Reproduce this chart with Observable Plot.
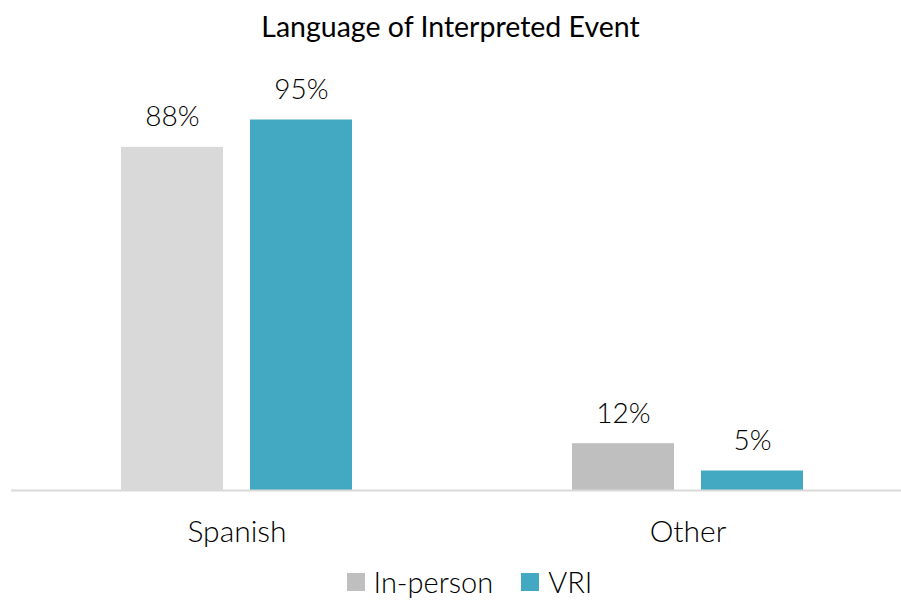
<!DOCTYPE html>
<html><head><meta charset="utf-8">
<script src="https://cdn.jsdelivr.net/npm/d3@7"></script>
<script src="https://cdn.jsdelivr.net/npm/@observablehq/plot@0.6"></script>
<style>
body{margin:0;background:#fff;font-family:Lato,"Open Sans",sans-serif;color:#000;width:901px;}
#title{height:50px;line-height:52px;text-align:center;font-size:28.5px;font-weight:400;}
#chart svg{display:block;}
#legend{height:44px;display:flex;justify-content:center;align-items:center;font-size:29px;line-height:34px;font-weight:300;padding-left:38px;box-sizing:border-box;}
.item{display:flex;align-items:center;margin:0 14px;}
.sw{width:18px;height:18px;margin-right:9px;}
</style></head><body>
<div id="title">Language of Interpreted Event</div>
<div id="chart"></div>
<div id="legend"></div>
<script>
const languages = ["Spanish", "Other"];
const series = ["In-person", "VRI"];
const inPersonValues = [88, 12];
const vriValues = [95, 5];
const inPersonColors = ["#D9D9D9", "#BFBFBF"];
const vriColor = "#43A9C3";
const legendColors = ["#BFBFBF", "#43A9C3"];

const data = [];
languages.forEach((lang, i) => {
  data.push({language: lang, series: "In-person", value: inPersonValues[i], color: inPersonColors[i]});
  data.push({language: lang, series: "VRI", value: vriValues[i], color: vriColor});
});

const chart = Plot.plot({
  width: 901,
  height: 510,
  marginTop: 50,
  marginBottom: 70,
  marginLeft: 11,
  marginRight: 0,
  style: {fontFamily: "Lato, 'Open Sans', sans-serif", background: "#fff", color: "#000"},
  fx: {domain: languages, range: [11, 913], padding: 0, label: null},
  x: {domain: series, paddingInner: 0.209, paddingOuter: 0.849, axis: null},
  y: {domain: [0, 100], axis: null},
  marks: [
    Plot.barY(data, {fx: "language", x: "series", y: "value", fill: "color"}),
    Plot.ruleY([0], {stroke: "#D9D9D9", strokeWidth: 2}),
    Plot.text(data, {fx: "language", x: "series", y: "value", text: d => d.value + "%", dy: -30, fontSize: 28, fontWeight: 300, fill: "#000"}),
    Plot.axisFx({anchor: "bottom", tickSize: 0, tickPadding: 30, fontSize: 30, fontWeight: 300, label: null, fill: "#000"})
  ]
});
document.getElementById("chart").appendChild(chart);

const legend = document.getElementById("legend");
series.forEach((s, i) => {
  const item = document.createElement("div");
  item.className = "item";
  const sw = document.createElement("div");
  sw.className = "sw";
  sw.style.background = legendColors[i];
  const t = document.createElement("span");
  t.textContent = s;
  item.appendChild(sw);
  item.appendChild(t);
  legend.appendChild(item);
});
</script>
</body></html>
